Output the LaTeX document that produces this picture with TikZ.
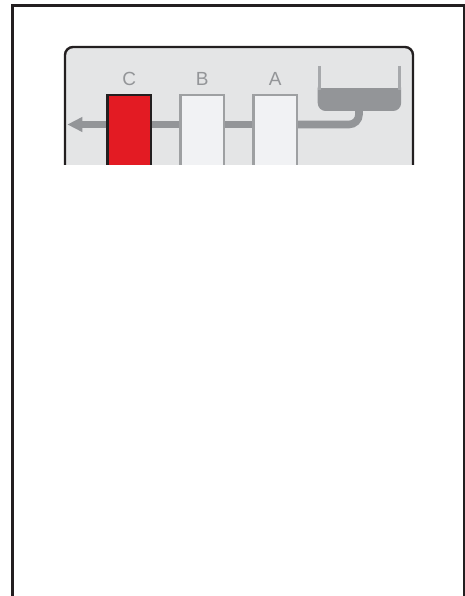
\documentclass[tikz,border=0pt]{standalone}
\usepackage{fontspec}
\setmainfont{Liberation Sans}
\usepackage{xcolor}
\usetikzlibrary{positioning,arrows.meta}
\definecolor{panelgray}{HTML}{E4E5E6}
\definecolor{pipegray}{HTML}{939598}
\definecolor{wallgray}{HTML}{A7A9AC}
\definecolor{boxwhite}{HTML}{F1F2F4}
\definecolor{framedark}{HTML}{231F20}
\definecolor{filterred}{HTML}{E31B23}

\begin{document}
\begin{tikzpicture}[
  x=1pt, y=-1pt,
  node distance=27pt,
  frameline/.style={draw=framedark, line width=2.6pt},
  panel/.style={draw=framedark, line width=2.4pt, fill=panelgray, rounded corners=8pt},
  cartridge/.style={draw=pipegray!90!white, line width=2.3pt, fill=boxwhite,
                    minimum width=43.6pt, minimum height=120pt, inner sep=0pt},
  active/.style={cartridge, draw=framedark, line width=2.5pt, fill=filterred},
  tag/.style={text=pipegray, font=\fontsize{19}{19}\selectfont, inner sep=0pt},
  wall/.style={draw=wallgray, line width=3.2pt},
  pipe/.style={draw=pipegray, line width=7.6pt},
  ar/.style={pipe, -{Triangle[length=15pt,width=14pt]}}
]
\useasboundingbox (0,0) rectangle (465,596);
\draw[frameline] (12.5,596) -- (12.5,5.5) -- (464,5.5) -- (464,596);
\begin{scope}
\clip (0,0) rectangle (465,164.7);
\draw[panel] (65,47) rectangle (413,260);
\node[active] (filterc) at (129.3,155.2) {};
\node[cartridge, right=of filterc] (filterb) {};
\node[cartridge, right=of filterb] (filtera) {};
\node[tag, above=8pt of filterc] (tagc) {C};
\node[tag, above=8pt of filterb] (tagb) {B};
\node[tag, above=8pt of filtera] (taga) {A};
% tank
\fill[pipegray, rounded corners=8pt] (317.7,80) -- (317.7,111) -- (401.1,111) -- (401.1,80) -- cycle;
\fill[panelgray] (321,70) rectangle (398,88);
\draw[wall] (319.3,66) -- (319.3,90);
\draw[wall] (399.5,66) -- (399.5,90);
\coordinate (tankout) at (359,110);
\coordinate (outlet) at (67.3,124.5);
% pipes
\draw[pipe, rounded corners=10pt] (tankout) -- (tankout |- outlet) -- (filtera.east |- outlet);
\draw[pipe] (filtera.west |- outlet) -- (filterb.east |- outlet);
\draw[pipe] (filterb.west |- outlet) -- (filterc.east |- outlet);
\draw[ar] (filterc.west |- outlet) -- (outlet);
\end{scope}
\end{tikzpicture}
\end{document}
